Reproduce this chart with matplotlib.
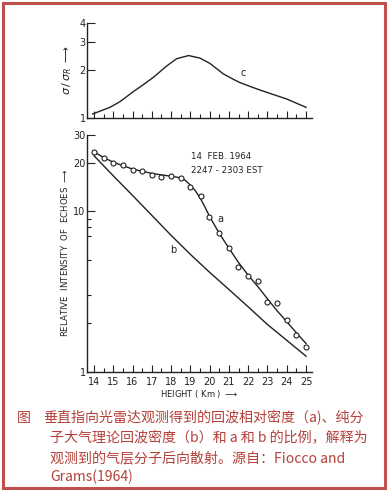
import matplotlib.pyplot as plt
import matplotlib.patches as patches
from matplotlib.ticker import FixedLocator, NullFormatter, LogLocator

plt.rcParams['font.family'] = ['DejaVu Sans']

# ---------------------------------------------------------
# Data
# ---------------------------------------------------------
# ratio curve c (upper panel)
ratio_height = [13.93, 14.83, 15.35, 16.04, 16.56, 17.08, 17.77, 18.29, 18.91, 19.50,
                20.02, 20.71, 21.23, 21.58, 22.27, 22.96, 24.0, 25.0]
ratio_value = [1.06, 1.168, 1.268, 1.467, 1.624, 1.806, 2.13, 2.37, 2.48, 2.39,
               2.21, 1.90, 1.755, 1.672, 1.555, 1.453, 1.318, 1.168]

# measured echoes (circles)
obs_height = [14.0, 14.5, 15.0, 15.5, 16.0, 16.5, 17.0, 17.5, 18.0, 18.5, 19.0, 19.54,
              19.98, 20.5, 21.0, 21.49, 22.0, 22.49, 22.96, 23.48, 24.0, 24.5, 25.0]
obs_value = [23.6, 21.6, 20.2, 19.5, 18.2, 17.8, 17.0, 16.3, 16.6, 16.2, 14.3, 12.4,
             9.17, 7.33, 5.9, 4.53, 3.98, 3.69, 2.74, 2.68, 2.10, 1.69, 1.43]

# smooth curve a through the measurements
fit_height = [14.0, 14.5, 15.0, 15.5, 16.0, 16.5, 17.0, 17.5, 18.0, 18.5, 18.75, 19.0,
              19.25, 19.5, 19.75, 20.0, 20.5, 21.0, 21.5, 22.0, 22.5, 23.0, 23.5,
              24.0, 24.5, 25.0]
fit_value = [23.6, 21.7, 20.3, 19.3, 18.4, 17.8, 17.3, 16.9, 16.6, 16.2, 15.6, 14.6,
             13.5, 12.2, 10.7, 9.3, 7.3, 5.9, 4.8, 4.0, 3.4, 2.85, 2.4,
             2.05, 1.75, 1.5]

# molecular curve b
mol_height = [14.0, 15.0, 16.0, 17.0, 18.0, 19.0, 20.0, 21.0, 22.0, 23.0, 24.0, 25.0]
mol_value = [22.3, 16.7, 12.6, 9.46, 7.1, 5.4, 4.17, 3.26, 2.54, 1.97, 1.57, 1.25]

height_ticks = list(range(14, 26))
half_ticks = [h + 0.5 for h in range(14, 25)]

caption = [
    "图",
    "垂直指向光雷达观测得到的回波相对密度（a)、纯分",
    "子大气理论回波密度（b）和 a 和 b 的比例，解释为",
    "观测到的气层分子后向散射。源自：Fiocco and",
    "Grams(1964)",
]

# ---------------------------------------------------------
# Figure
# ---------------------------------------------------------
W, H = 388, 493
fig = plt.figure(figsize=(W / 100, H / 100), dpi=100)
fig.patch.set_facecolor('white')

ink = '#222222'
red = '#C0504D'
txt_red = '#B5403A'


def px(x0, y0, x1, y1):
    # pixel box (top-left origin) -> figure fraction rect
    return [x0 / W, 1 - y1 / H, (x1 - x0) / W, (y1 - y0) / H]


def style(ax):
    for s in ['top', 'right']:
        ax.spines[s].set_visible(False)
    for s in ['left', 'bottom']:
        ax.spines[s].set_color(ink)
        ax.spines[s].set_linewidth(1.0)
    ax.tick_params(which='both', direction='in', color=ink, width=0.8,
                   labelsize=7, labelcolor=ink)
    ax.tick_params(which='major', length=5)
    ax.tick_params(which='minor', length=3)
    ax.set_xlim(13.64, 25.31)
    ax.xaxis.set_major_locator(FixedLocator(height_ticks))
    ax.xaxis.set_minor_locator(FixedLocator(half_ticks))


# upper panel: ratio
ax1 = fig.add_axes(px(87, 22.7, 312, 118))
style(ax1)
ax1.set_yscale('log')
ax1.set_ylim(1, 4)
ax1.yaxis.set_major_locator(FixedLocator([1, 2, 3, 4]))
ax1.yaxis.set_minor_locator(FixedLocator([]))
ax1.set_yticklabels(['1', '2', '3', '4'])
ax1.tick_params(axis='y', which='major', length=6, pad=1)
ax1.set_xticklabels([])
ax1.plot(ratio_height, ratio_value, color=ink, lw=1.0)
ax1.text(21.74, 1.92, 'c', fontsize=7, color=ink, ha='center', va='center')
ax1.set_ylabel(r'$\sigma\,/\,\sigma_R$ $\longrightarrow$', fontsize=8, color=ink, labelpad=4)

# lower panel: echo intensity
ax2 = fig.add_axes(px(87, 135, 312, 371.7))
style(ax2)
ax2.set_yscale('log')
ax2.set_ylim(1, 30)
ax2.yaxis.set_major_locator(FixedLocator([1, 10, 20, 30]))
ax2.yaxis.set_minor_locator(LogLocator(base=10, subs=[2, 3, 5, 7, 8, 9]))
ax2.yaxis.set_minor_formatter(NullFormatter())
ax2.set_yticklabels(['1', '10', '20', '30'])
ax2.tick_params(axis='y', which='major', length=6, pad=1)
ax2.set_xticklabels([str(h) for h in height_ticks])

ax2.plot(fit_height, fit_value, color=ink, lw=1.0)
ax2.plot(obs_height, obs_value, 'o', mfc='white', mec=ink, ms=3.6, mew=0.8)
ax2.plot(mol_height, mol_value, color=ink, lw=1.0)

ax2.text(20.54, 8.97, 'a', fontsize=7, color=ink, ha='center', va='center')
ax2.text(18.12, 5.76, 'b', fontsize=7, color=ink, ha='center', va='center')
ax2.text(19.02, 21.9, '14  FEB. 1964', fontsize=6.2, color=ink, ha='left', va='center')
ax2.text(19.02, 18.0, '2247 - 2303 EST', fontsize=6.2, color=ink, ha='left', va='center')
ax2.set_xlabel(r'HEIGHT ( Km ) $\longrightarrow$', fontsize=6, color=ink, labelpad=1)
ax2.set_ylabel(r'RELATIVE  INTENSITY  OF  ECHOES $\longrightarrow$', fontsize=6.2,
               color=ink, labelpad=2)

# ---------------------------------------------------------
# Caption and frame
# ---------------------------------------------------------
cfam = ['Noto Sans CJK SC', 'DejaVu Sans']
cap_y = [418, 418, 438, 458, 477]
cap_x = [17, 43, 50, 50, 50]
for s, x, y in zip(caption, cap_x, cap_y):
    fig.text(x / W, 1 - y / H, s, family=cfam, fontsize=10.1, color=txt_red,
             ha='left', va='center')

frame = patches.Rectangle((2.5 / W, 1 - 488 / H), (385 - 2.5) / W, (488 - 2.5) / H,
                          transform=fig.transFigure, fill=False, edgecolor=red, lw=2.2)
fig.add_artist(frame)

fig.savefig('out.png', dpi=100)
